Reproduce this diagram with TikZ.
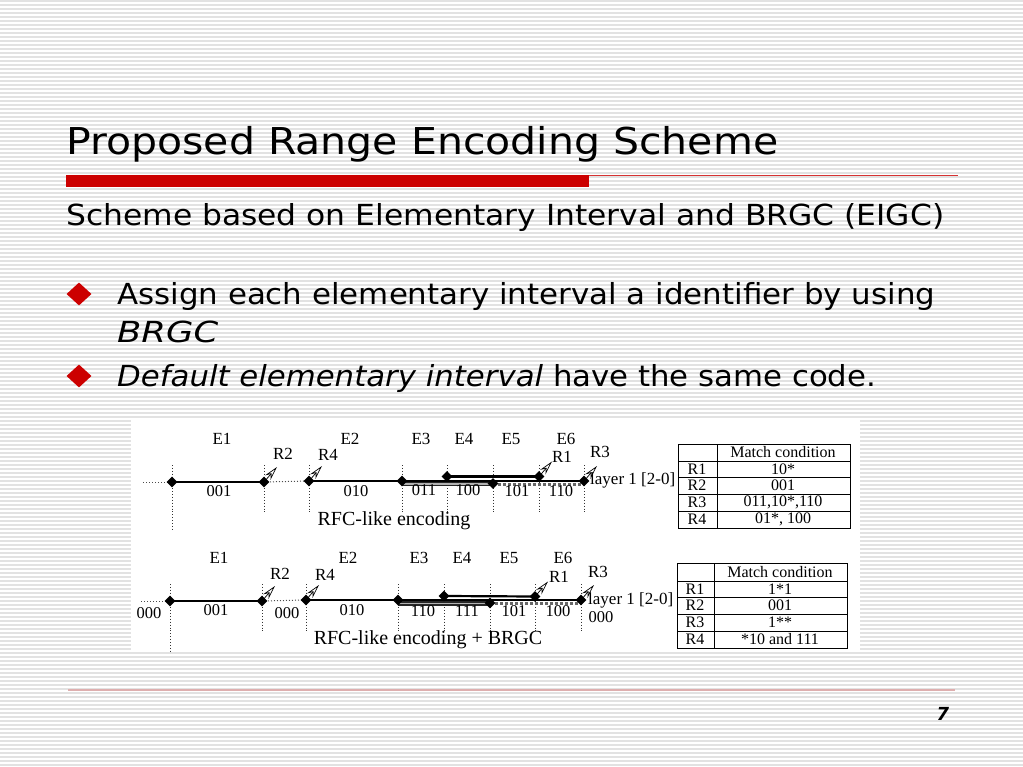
\documentclass[tikz,border=0pt]{standalone}
\usepackage{fontspec}
\setmainfont{DejaVu Sans}
\newfontfamily\tnr{Liberation Serif}
\usepackage{graphicx}
\usetikzlibrary{shapes.geometric,arrows.meta}
\definecolor{slidered}{RGB}{204,0,0}
\definecolor{stripegray}{RGB}{226,226,226}
\definecolor{lineP}{RGB}{222,175,175}
\tikzset{
 stripe/.style={draw=stripegray, line width=1.1pt},
 slidetext/.style={anchor=base west, inner sep=0, text=black},
 bulletmark/.style={diamond, fill=slidered, minimum width=25pt, minimum height=23pt, inner sep=0},
 ediamond/.style={diamond, fill=black, minimum width=11pt, minimum height=11pt, inner sep=0},
 vdot/.style={dotted, line width=0.9pt, draw=black!80},
 hdot/.style={dotted, line width=1pt, draw=black!70},
 rule/.style={line width=2.2pt, draw=black},
 tlabel/.style={font=\tnr\fontsize{17}{17}\selectfont, inner sep=0},
 code/.style={font=\tnr\fontsize{16.5}{17}\selectfont, inner sep=0},
 caption/.style={font=\tnr\fontsize{20}{20}\selectfont, inner sep=0},
 tabtxt/.style={font=\tnr\fontsize{16}{16}\selectfont, inner sep=0},
 tabline/.style={line width=0.9pt, draw=black},
 rarrow/.style={-{Stealth[open,length=14pt,width=7pt]}, line width=0.7pt},
}
\begin{document}
\begin{tikzpicture}[x=1pt,y=-1pt]
\useasboundingbox (0,0) rectangle (1023,767);
\fill[white] (0,0) rectangle (1023,767);
\foreach \yy in {1,5,...,767} \draw[stripe] (0,\yy) -- (1023,\yy);

% title and rules
\node[slidetext] (title) at (66,155) {\resizebox{712pt}{\height}{\fontsize{37}{44}\selectfont Proposed Range Encoding Scheme}};
\fill[slidered] (66,175) rectangle (589,187);
\draw[slidered!80, line width=1pt] (589,176) -- (958,176);
\draw[lineP, line width=1.2pt] (68,690) -- (955,690);
\node[font=\itshape\fontsize{18}{18}\selectfont, inner sep=0] (pg) at (943,714) {\textbf{7}};

% body text
\node[slidetext] (sub) at (66,226) {\resizebox{878pt}{\height}{\fontsize{29}{35}\selectfont Scheme based on Elementary Interval and BRGC (EIGC)}};
\node[bulletmark] (bm1) at (79,294) {};
\node[bulletmark] (bm2) at (79,376) {};
\node[slidetext] (l1) at (117,305) {\resizebox{818pt}{\height}{\fontsize{29}{35}\selectfont Assign each elementary interval a identifier by using}};
\node[slidetext] (l2) at (117,342) {\resizebox{101pt}{\height}{\fontsize{29}{35}\selectfont\itshape BRGC}};
\node[slidetext] (l3) at (117,386) {\resizebox{759pt}{\height}{\fontsize{29}{35}\selectfont\textit{Default elementary interval} have the same code.}};

% figure background
\fill[white] (131,420) rectangle (860,652);

% ---------- top diagram ----------
\coordinate (a0) at (143,482);
\coordinate (a1) at (172,482);
\coordinate (a2) at (264,482);
\coordinate (a3) at (309,481);
\coordinate (a4) at (402,481);
\coordinate (a5) at (447,476.5);
\coordinate (a6) at (493,483.5);
\coordinate (a7) at (539,476.5);
\coordinate (a8) at (584,481);
\foreach \xx in {264,309,402,447,493,539,584} \draw[vdot] (\xx,465) -- (\xx,512);
\draw[vdot] (172,465) -- (172,531);
\draw[hdot] (a0) -- (a1);
\draw[hdot] (a2) -- (a3);
\draw[line width=3pt, dotted, draw=black!60] (493,484) -- (584,484);
\draw[line width=4.2pt, draw=black!85] (402,484) -- (493,484);
\draw[line width=1.4pt, draw=black!30] (402,484) -- (493,484);
\draw[rule] (a1) -- (a2);
\draw[rule] (a3) -- (a4) -- (a8);
\draw[rule] (a5) -- (a7);
\foreach \p in {a1,a2,a3,a4,a5,a6,a7,a8} \node[ediamond] (D\p) at (\p) {};
\draw[rarrow] (a2) -- ++(13,-15);
\draw[rarrow] (a3) -- ++(13,-15);
\draw[rarrow] (a7) -- ++(13,-15);
\draw[rarrow] (a8) -- ++(13,-15);
\node[tlabel] (te1) at (222,439) {E1};
\node[tlabel] (te2) at (350,439) {E2};
\node[tlabel] (te3) at (421,439) {E3};
\node[tlabel] (te4) at (464,439) {E4};
\node[tlabel] (te5) at (511,439) {E5};
\node[tlabel] (te6) at (566,439) {E6};
\node[tlabel] (tr2) at (283,454) {R2};
\node[tlabel] (tr4) at (328,455) {R4};
\node[tlabel] (tr1) at (562,457) {R1};
\node[tlabel] (tr3) at (600,452) {R3};
\node[code] (tc1) at (219,491) {001};
\node[code] (tc2) at (356,491) {010};
\node[code] (tc3) at (424,490) {011};
\node[code] (tc4) at (468,490) {100};
\node[code] (tc5) at (517,491) {101};
\node[code] (tc6) at (561,491) {110};
\node[tlabel, anchor=west] (tl) at (590,480) {layer 1 [2-0]};
\node[caption] (tcap) at (394,521) {RFC-like encoding};

% ---------- bottom diagram ----------
\coordinate (b0) at (141,601);
\coordinate (b1) at (170,601);
\coordinate (b2) at (262,601);
\coordinate (b3) at (306,600);
\coordinate (b4) at (398,600);
\coordinate (b5) at (444,596);
\coordinate (b6) at (490,603);
\coordinate (b7) at (535,596.5);
\coordinate (b8) at (581,600);
\foreach \xx in {262,306,398,444,490,535,581} \draw[vdot] (\xx,584) -- (\xx,631);
\draw[vdot] (170,584) -- (170,652);
\draw[hdot] (b0) -- (b1);
\draw[hdot] (b2) -- (b3);
\draw[line width=3pt, dotted, draw=black!60] (490,603.5) -- (581,603.5);
\draw[line width=4.2pt, draw=black!85] (398,603.5) -- (490,603.5);
\draw[line width=1.4pt, draw=black!30] (398,603.5) -- (490,603.5);
\draw[rule] (b1) -- (b2);
\draw[rule] (b3) -- (b4) -- (b8);
\draw[rule] (b5) -- (b7);
\foreach \p in {b1,b2,b3,b4,b5,b6,b7,b8} \node[ediamond] (D\p) at (\p) {};
\draw[rarrow] (b2) -- ++(13,-15);
\draw[rarrow] (b3) -- ++(13,-15);
\draw[rarrow] (b7) -- ++(13,-15);
\draw[rarrow] (b8) -- ++(13,-15);
\node[tlabel] (be1) at (219,558) {E1};
\node[tlabel] (be2) at (348,558) {E2};
\node[tlabel] (be3) at (419,558) {E3};
\node[tlabel] (be4) at (462,558) {E4};
\node[tlabel] (be5) at (509,558) {E5};
\node[tlabel] (be6) at (563,558) {E6};
\node[tlabel] (br2) at (280,574) {R2};
\node[tlabel] (br4) at (325,575) {R4};
\node[tlabel] (br1) at (559,577) {R1};
\node[tlabel] (br3) at (598,572) {R3};
\node[code] (bc0) at (149,613) {000};
\node[code] (bc1) at (216,610) {001};
\node[code] (bc2) at (287,613) {000};
\node[code] (bc3) at (352,610) {010};
\node[code] (bc4) at (423,611) {110};
\node[code] (bc5) at (467,611) {111};
\node[code] (bc6) at (514,611) {101};
\node[code] (bc7) at (558,611) {100};
\node[code] (bc8) at (601,617) {000};
\node[tlabel, anchor=west] (bl) at (588,600) {layer 1 [2-0]};
\node[caption] (bcap) at (428,640) {RFC-like encoding + BRGC};

% ---------- top table ----------
\draw[tabline] (678,444) rectangle (850,528);
\foreach \yy in {461,477,494,511} \draw[tabline] (678,\yy) -- (850,\yy);
\draw[tabline] (717,444) -- (717,528);
\node[tabtxt] (th) at (783,452.5) {Match condition};
\node[tabtxt] (tr1n) at (697,469) {R1};
\node[tabtxt] (tr2n) at (697,485.5) {R2};
\node[tabtxt] (tr3n) at (697,502.5) {R3};
\node[tabtxt] (tr4n) at (697,519.5) {R4};
\node[tabtxt] (tv1) at (783,469) {10*};
\node[tabtxt] (tv2) at (783,485.5) {001};
\node[tabtxt] (tv3) at (783,502.5) {011,10*,110};
\node[tabtxt] (tv4) at (783,519.5) {01*, 100};

% ---------- bottom table ----------
\draw[tabline] (677,563) rectangle (847,648);
\foreach \yy in {581,597,614,631} \draw[tabline] (677,\yy) -- (847,\yy);
\draw[tabline] (714,563) -- (714,648);
\node[tabtxt] (bh) at (780,572) {Match condition};
\node[tabtxt] (br1n) at (695,589) {R1};
\node[tabtxt] (br2n) at (695,605.5) {R2};
\node[tabtxt] (br3n) at (695,622.5) {R3};
\node[tabtxt] (br4n) at (695,639.5) {R4};
\node[tabtxt] (bv1) at (780,589) {1*1};
\node[tabtxt] (bv2) at (780,605.5) {001};
\node[tabtxt] (bv3) at (780,622.5) {1**};
\node[tabtxt] (bv4) at (780,639.5) {*10 and 111};
\end{tikzpicture}
\end{document}
